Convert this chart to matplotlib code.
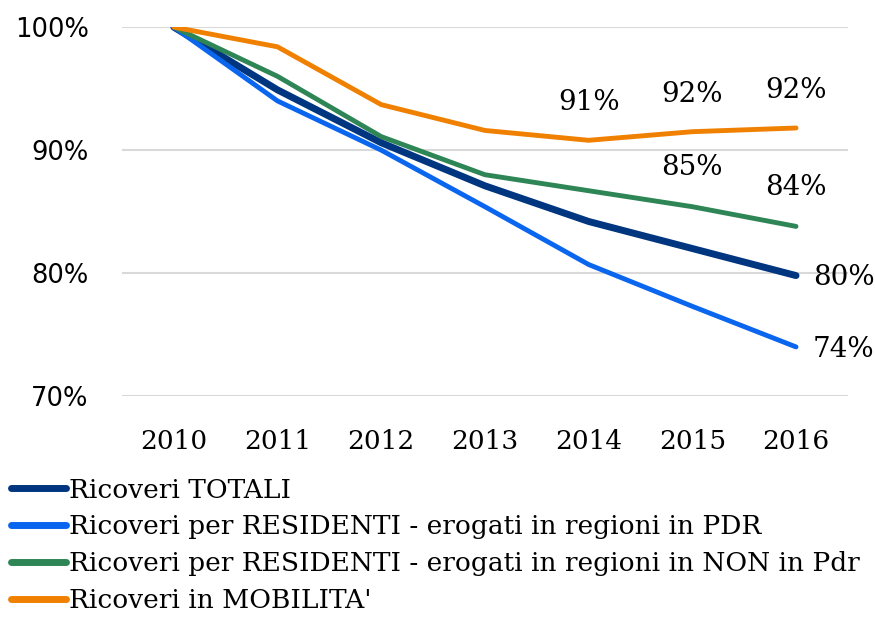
import matplotlib
matplotlib.use("Agg")
import matplotlib.pyplot as plt
from matplotlib.ticker import FuncFormatter

years = ["2010", "2011", "2012", "2013", "2014", "2015", "2016"]
totali = [100, 94.9, 90.6, 87.1, 84.2, 82.0, 79.8]
residenti_pdr = [100, 94.0, 90.0, 85.4, 80.7, 77.3, 74.0]
residenti_non_pdr = [100, 96.0, 91.1, 88.0, 86.7, 85.4, 83.8]
mobilita = [100, 98.4, 93.7, 91.6, 90.8, 91.5, 91.8]

labels = ["Ricoveri TOTALI",
          "Ricoveri per RESIDENTI - erogati in regioni in PDR",
          "Ricoveri per RESIDENTI - erogati in regioni in NON in Pdr",
          "Ricoveri in MOBILITA'"]
colors = ["#003580", "#0a66ee", "#2e8555", "#f08000"]
widths = [5, 3.5, 3.5, 3.5]

serif = "DejaVu Serif"
fig = plt.figure(figsize=(8.75, 6.17), dpi=100)
ax = fig.add_axes([0.1394, 0.358, 0.8296, 0.598])
x = list(range(len(years)))
series = [totali, residenti_pdr, residenti_non_pdr, mobilita]
lines = []
for s, c, w, l in zip(series, colors, widths, labels):
    ln, = ax.plot(x, s, color=c, lw=w, solid_capstyle="round", solid_joinstyle="round", label=l, zorder=3)
    lines.append(ln)

ax.set_xlim(-0.5, 6.5)
ax.set_ylim(70, 100)
ax.set_yticks([70, 80, 90, 100])
ax.yaxis.set_major_formatter(FuncFormatter(lambda v, p: f"{v:.0f}%"))
ax.set_xticks(x)
ax.set_xticklabels(years, fontsize=19, family=serif)
for t in ax.get_yticklabels():
    t.set_fontsize(18.5)
    t.set_family("DejaVu Sans")
ax.tick_params(axis="y", length=0, pad=24)
ax.tick_params(axis="x", length=0, pad=24)
ax.grid(axis="y", color="#d9d9d9", lw=1.5)
ax.set_axisbelow(True)
for sp in ax.spines.values():
    sp.set_visible(False)

fs = 20
# data labels
for i in [4, 5, 6]:
    ax.annotate(f"{mobilita[i]:.0f}%", (i, mobilita[i]), xytext=(0, 27),
                textcoords="offset points", ha="center", va="center", fontsize=fs, family=serif)
for i in [5, 6]:
    ax.annotate(f"{residenti_non_pdr[i]:.0f}%", (i, residenti_non_pdr[i]), xytext=(0, 28),
                textcoords="offset points", ha="center", va="center", fontsize=fs, family=serif)
ax.annotate(f"{totali[6]:.0f}%", (6, totali[6]), xytext=(12, -1.5), textcoords="offset points",
            ha="left", va="center", fontsize=fs, family=serif)
ax.annotate(f"{residenti_pdr[6]:.0f}%", (6, residenti_pdr[6]), xytext=(12, -1.5), textcoords="offset points",
            ha="left", va="center", fontsize=fs, family=serif)

leg = fig.legend(handles=lines, labels=labels, loc="upper left", bbox_to_anchor=(0.0, 0.243),
                 frameon=False, prop={"family": serif, "size": 19}, handlelength=2.1,
                 handletextpad=0.1, labelspacing=0.45, borderaxespad=0.2, borderpad=0.2)
for h in leg.legend_handles:
    h.set_linewidth(5)

fig.savefig("out.png", dpi=100)
